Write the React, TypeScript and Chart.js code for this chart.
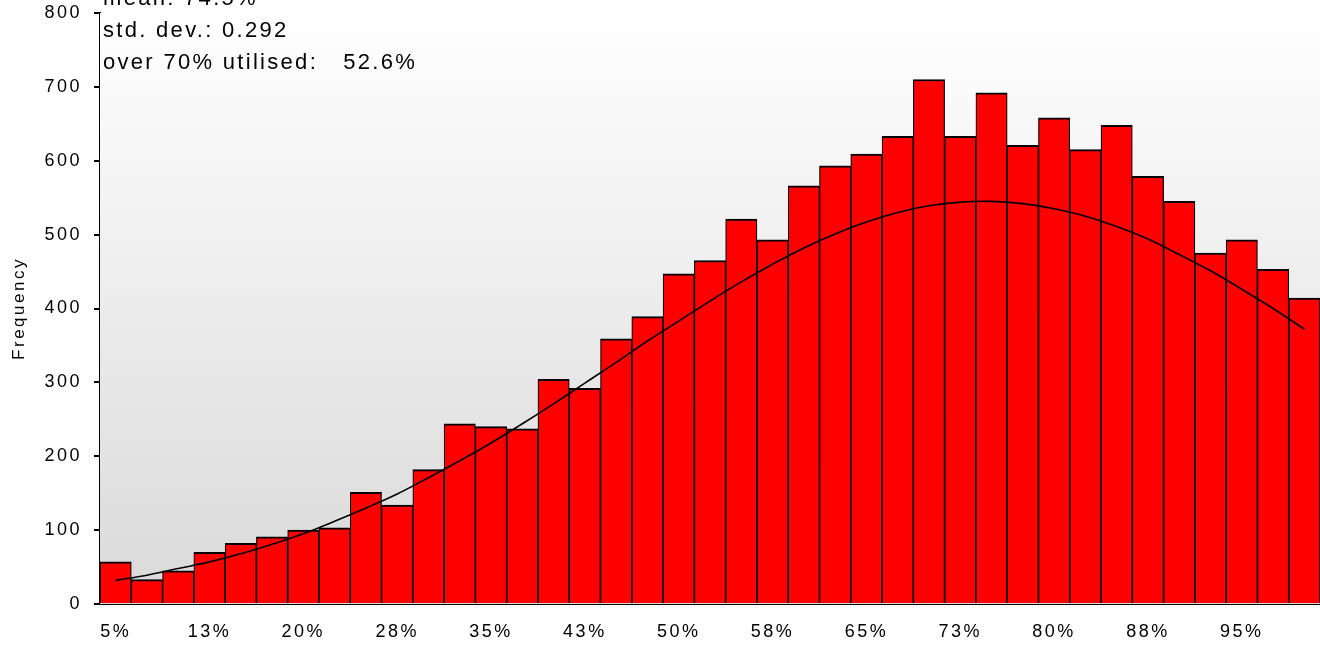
import React, { useEffect, useRef } from "react";
import { Chart, registerables } from "chart.js";

Chart.register(...registerables);

// Utilisation bins, 2.5% wide, labelled by their rounded start value
const binLabels = [
  "5%", "8%", "10%", "13%", "15%", "18%", "20%", "23%", "25%", "28%",
  "30%", "33%", "35%", "38%", "40%", "43%", "45%", "48%", "50%", "53%",
  "55%", "58%", "60%", "63%", "65%", "68%", "70%", "73%", "75%", "78%",
  "80%", "83%", "85%", "88%", "90%", "93%", "95%", "98%", "100%",
];

// Observed frequency per bin
const frequencies = [
  57, 33, 45, 70, 82, 91, 100, 103, 151, 134,
  182, 244, 240, 237, 304, 292, 359, 389, 447, 465,
  521, 493, 566, 593, 609, 633, 710, 633, 692, 621,
  658, 615, 648, 579, 545, 475, 493, 453, 414,
];

// Fitted distribution curve, one value per bin centre
const fittedCurve = [
  32, 39, 48, 57, 68, 81, 95, 112, 130, 149,
  171, 194, 218, 244, 271, 299, 327, 356, 383, 410,
  436, 460, 482, 501, 517, 530, 539, 544, 545, 542,
  535, 525, 511, 494, 473, 451, 426, 400, 372,
];

const yTickValues = [0, 100, 200, 300, 400, 500, 600, 700, 800];

const statsLines = [
  "mean: 74.5%",
  "std. dev.: 0.292",
  "over 70% utilised:   52.6%",
];

const FONT = '"Liberation Sans", Arial, sans-serif';

const spacingPlugin = {
  id: "letterSpacing",
  beforeUpdate(chart: any) {
    chart.ctx.letterSpacing = "2.5px";
  },
  beforeDraw(chart: any) {
    chart.ctx.letterSpacing = "2.5px";
  },
};

const backgroundPlugin = {
  id: "plotBackground",
  beforeDatasetsDraw(chart: any) {
    const { ctx, chartArea } = chart;
    const { left, right, top, bottom } = chartArea;
    const g = ctx.createLinearGradient(0, top, 0, bottom);
    g.addColorStop(0, "#ffffff");
    g.addColorStop(1, "#d9d9d9");
    ctx.save();
    ctx.fillStyle = g;
    ctx.fillRect(left, top, right - left, bottom - top);
    ctx.restore();
  },
};

const statsPlugin = {
  id: "statsText",
  afterDraw(chart: any) {
    const { ctx, chartArea } = chart;
    ctx.save();
    ctx.font = `22px ${FONT}`;
    ctx.letterSpacing = "2.3px";
    ctx.fillStyle = "#000";
    ctx.textAlign = "left";
    ctx.textBaseline = "alphabetic";
    statsLines.forEach((line, i) => {
      ctx.fillText(line, chartArea.left + 3, 5 + i * 32);
    });
    ctx.restore();
  },
};

export default function App() {
  const canvasRef = useRef<HTMLCanvasElement | null>(null);

  useEffect(() => {
    const canvas = canvasRef.current;
    if (!canvas) return;

    const chart = new Chart(canvas, {
      type: "bar",
      data: {
        labels: binLabels,
        datasets: [
          {
            type: "line",
            label: "Fitted",
            data: fittedCurve,
            borderColor: "#000000",
            borderWidth: 1.6,
            pointRadius: 0,
            tension: 0.4,
            fill: false,
            order: 0,
          } as any,
          {
            type: "bar",
            label: "Frequency",
            data: frequencies,
            backgroundColor: "#ff0000",
            borderColor: "#000000",
            borderWidth: { top: 2, left: 1.2, right: 1.2, bottom: 0 },
            borderSkipped: false,
            categoryPercentage: 1,
            barPercentage: 1,
            order: 1,
          } as any,
        ],
      },
      options: {
        responsive: false,
        animation: false,
        devicePixelRatio: 1,
        layout: { padding: { top: 13, left: 0, right: 0, bottom: 0 } },
        plugins: {
          legend: { display: false },
          tooltip: { enabled: false },
        },
        scales: {
          x: {
            grid: {
              display: true,
              drawOnChartArea: false,
              drawTicks: false,
            },
            border: { display: true, color: "#000000", width: 2 },
            ticks: {
              autoSkip: false,
              maxRotation: 0,
              minRotation: 0,
              padding: 17,
              color: "#000000",
              font: { family: FONT, size: 18 },
              callback: (_v: any, i: number) => (i % 3 === 0 ? binLabels[i] : ""),
            },
            afterFit: (s: any) => {
              s.height = 43;
              s.paddingLeft = 0;
              s.paddingRight = 0;
            },
          },
          y: {
            min: 0,
            max: 800,
            afterBuildTicks: (s: any) => {
              s.ticks = yTickValues.map((v) => ({ value: v }));
            },
            grid: {
              display: true,
              drawOnChartArea: false,
              drawTicks: true,
              tickLength: 6,
              color: "#000000",
              lineWidth: 2,
            },
            border: { display: true, color: "#000000", width: 2 },
            ticks: {
              padding: 12,
              color: "#000000",
              font: { family: FONT, size: 18 },
            },
            title: {
              display: true,
              text: "Frequency",
              color: "#000000",
              font: { family: FONT, size: 17 },
              padding: { top: 9, bottom: 0 },
            },
            afterFit: (s: any) => {
              s.width = 100;
              s.paddingTop = 0;
              s.paddingBottom = 0;
            },
          },
        },
      },
      plugins: [spacingPlugin, backgroundPlugin, statsPlugin],
    });

    return () => chart.destroy();
  }, []);

  return (
    <div style={{ position: "fixed", left: 0, top: 0, width: 1320, height: 647, background: "#ffffff" }}>
      <canvas ref={canvasRef} width={1320} height={647} style={{ display: "block" }} />
    </div>
  );
}
